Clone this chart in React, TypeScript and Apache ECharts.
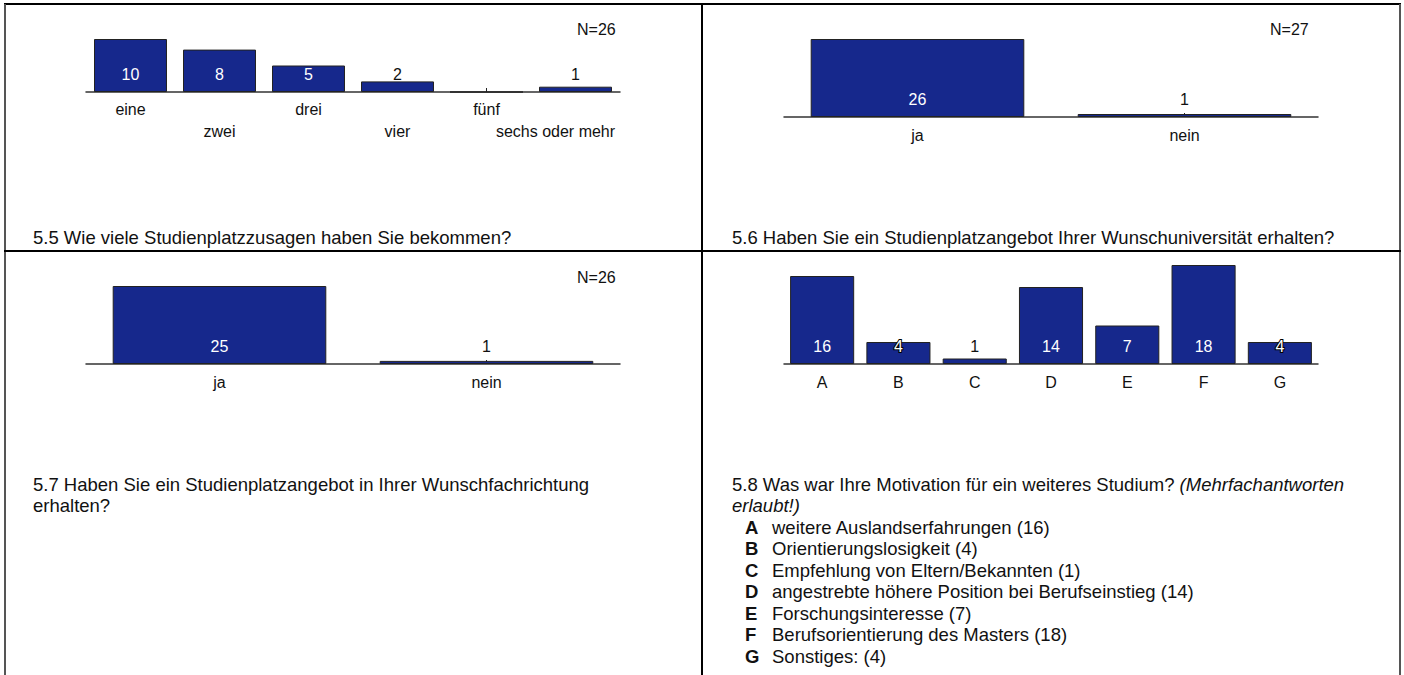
import React, { useEffect, useRef } from "react";
import * as echarts from "echarts";

// ---- data ----
const p1Cats = ["eine", "zwei", "drei", "vier", "fünf", "sechs oder mehr"];
const p1Vals = [10, 8, 5, 2, 0, 1];
const p1N = "N=26";
const p1Title = "5.5 Wie viele Studienplatzzusagen haben Sie bekommen?";

const p2Cats = ["ja", "nein"];
const p2Vals = [26, 1];
const p2N = "N=27";
const p2Title = "5.6 Haben Sie ein Studienplatzangebot Ihrer Wunschuniversität erhalten?";

const p3Cats = ["ja", "nein"];
const p3Vals = [25, 1];
const p3N = "N=26";
const p3TitleLines = [
  "5.7 Haben Sie ein Studienplatzangebot in Ihrer Wunschfachrichtung",
  "erhalten?",
];

const p4Cats = ["A", "B", "C", "D", "E", "F", "G"];
const p4Vals = [16, 4, 1, 14, 7, 18, 4];
const p4Desc = [
  "weitere Auslandserfahrungen",
  "Orientierungslosigkeit",
  "Empfehlung von Eltern/Bekannten",
  "angestrebte höhere Position bei Berufseinstieg",
  "Forschungsinteresse",
  "Berufsorientierung des Masters",
  "Sonstiges:",
];
const p4TitleMain = "5.8 Was war Ihre Motivation für ein weiteres Studium? ";
const p4TitleItalic1 = "(Mehrfachantworten";
const p4TitleItalic2 = "erlaubt!)";

const FONT = "'Liberation Sans', Arial, Helvetica, sans-serif";
const BAR = "#16288C";
const BODY = 18.5;

const grids = [
  { left: 86, top: 39, width: 534, height: 53 },
  { left: 784, top: 39, width: 534, height: 78 },
  { left: 86, top: 286, width: 534, height: 78 },
  { left: 784, top: 265, width: 534, height: 99 },
];

function barData(vals: number[], gridH: number) {
  const max = Math.max(...vals);
  return vals.map((v) => {
    const px = (v / max) * gridH;
    let label: any;
    if (v === 0) label = { show: false };
    else if (px > 25) label = { color: "#ffffff" };
    else if (px > 15)
      label = { color: "#ffffff", textBorderColor: "#000000", textBorderWidth: 2 };
    else label = { color: "#111111" };
    return { value: v, label };
  });
}

export default function App() {
  const ref = useRef<HTMLDivElement>(null);
  useEffect(() => {
    if (!ref.current) return;
    const chart = echarts.init(ref.current, undefined, { renderer: "svg" });
    const allVals = [p1Vals, p2Vals, p3Vals, p4Vals];
    const allCats = [p1Cats, p2Cats, p3Cats, p4Cats];
    const barWidths = ["82%", "80%", "80%", "84%"];

    const xAxis = allCats.map((cats, i) => ({
      type: "category",
      gridIndex: i,
      data: cats,
      axisLine: { lineStyle: { color: "#333333", width: 1.5 } },
      axisTick: {
        show: true,
        inside: true,
        alignWithLabel: true,
        length: 4,
        lineStyle: { color: "#222222", width: 1 },
      },
      axisLabel: {
        interval: 0,
        color: "#111111",
        fontSize: 16,
        fontFamily: FONT,
        margin: i === 0 ? 7 : 10,
        lineHeight: i === 0 ? 21.5 : 16,
        rich: {
          r: {
            fontSize: 16,
            fontFamily: FONT,
            color: "#111111",
            lineHeight: 21.5,
            padding: [0, 40, 0, 0],
          },
        },
        formatter:
          i === 0
            ? (v: string, idx: number) => {
                const last = idx === cats.length - 1;
                const t = last ? "{r|" + v + "}" : v;
                return idx % 2 === 1 ? "\n" + t : t;
              }
            : (v: string) => v,
      },
    }));
    const yAxis = allVals.map((vals, i) => ({
      type: "value",
      gridIndex: i,
      show: false,
      min: 0,
      max: Math.max(...vals),
      splitLine: { show: false },
    }));
    const series = allVals.map((vals, i) => ({
      type: "bar",
      xAxisIndex: i,
      yAxisIndex: i,
      barWidth: barWidths[i],
      data: barData(vals, grids[i].height),
      itemStyle: { color: BAR, borderColor: "#222222", borderWidth: 1 },
      label: {
        show: true,
        position: "insideBottom",
        distance: 10,
        fontSize: 16,
        fontFamily: FONT,
      },
    }));

    const txt = (text: string, x: number, y: number, extra: any = {}) => ({
      type: "text",
      x,
      y,
      silent: true,
      style: {
        text,
        fontSize: BODY,
        fontFamily: FONT,
        fill: "#111111",
        verticalAlign: "middle",
        ...extra,
      },
    });
    const ln = (x1: number, y1: number, x2: number, y2: number, color: string) => ({
      type: "line",
      silent: true,
      shape: { x1, y1, x2, y2 },
      style: { stroke: color, lineWidth: 2 },
    });

    const listTop = 484;
    const lh = 21.5;
    const graphic: any[] = [
      ln(4, 4, 1401, 4, "#000000"),
      ln(5, 4, 5, 675, "#555555"),
      ln(1400, 4, 1400, 675, "#555555"),
      ln(702, 4, 702, 675, "#000000"),
      ln(4, 251, 1401, 251, "#000000"),
      txt(p1N, 577, 29, { fontSize: 16 }),
      txt(p2N, 1270, 29, { fontSize: 16 }),
      txt(p3N, 577, 277, { fontSize: 16 }),
      txt(p1Title, 33, 237),
      txt(p2Title, 732, 237),
      txt(p3TitleLines[0], 33, listTop),
      txt(p3TitleLines[1], 33, listTop + lh),
      txt("{n|" + p4TitleMain + "}{i|" + p4TitleItalic1 + "}", 732, listTop, {
        rich: {
          n: { fontSize: BODY, fontFamily: FONT, fill: "#111111" },
          i: { fontSize: BODY, fontFamily: FONT, fontStyle: "italic", fill: "#111111" },
        },
      }),
      txt(p4TitleItalic2, 732, listTop + lh, { fontStyle: "italic" }),
    ];
    p4Cats.forEach((c, k) => {
      const y = listTop + lh * (k + 2);
      graphic.push(txt(c, 745, y, { fontWeight: "bold" }));
      graphic.push(txt(p4Desc[k] + " (" + p4Vals[k] + ")", 772, y));
    });

    chart.setOption({
      animation: false,
      backgroundColor: "#ffffff",
      grid: grids.map((g) => ({ ...g, containLabel: false })),
      xAxis,
      yAxis,
      series,
      graphic,
    });
    return () => chart.dispose();
  }, []);
  return (
    <div
      ref={ref}
      style={{ position: "fixed", left: 0, top: 0, width: 1404, height: 675, background: "#fff" }}
    />
  );
}
